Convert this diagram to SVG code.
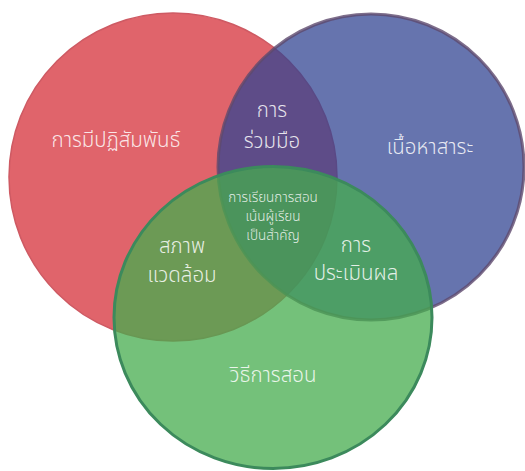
<svg xmlns="http://www.w3.org/2000/svg" width="525" height="471" viewBox="0 0 525 471">
<style>
  .lbl { font-family: "Noto Sans Thai", "Noto Sans", "DejaVu Sans", sans-serif; font-weight: 300; fill: #ffffff; fill-opacity: 0.85; text-anchor: middle; font-size: 20.5px; }
  .sm { font-size: 13.5px; }
  .red { fill: #E0646B; stroke: #CE5A63; stroke-width: 1.5; }
  .blue { fill: rgb(49,68,146); fill-opacity: 0.74; stroke: #5E4A6E; stroke-width: 3; stroke-opacity: 0.8; }
  .green { fill: rgb(69,172,77); fill-opacity: 0.75; stroke: #3C8A5C; stroke-width: 3; }
</style>
<rect width="525" height="471" fill="#ffffff"/>
<g id="interaction">
  <circle class="red" cx="173" cy="177" r="164"/>
</g>
<g id="content">
  <circle class="blue" cx="371" cy="167" r="153"/>
</g>
<g id="teaching-method">
  <ellipse class="green" cx="273" cy="317.5" rx="159" ry="151"/>
</g>
<g id="connectors"/>
<g id="labels">
  <text class="lbl" x="116" y="147">การมีปฏิสัมพันธ์</text>
  <text class="lbl" x="272" y="117">การ</text>
  <text class="lbl" x="272" y="148">ร่วมมือ</text>
  <text class="lbl" x="430" y="154">เนื้อหาสาระ</text>
  <text class="lbl sm" x="273" y="202">การเรียนการสอน</text>
  <text class="lbl sm" x="273" y="221">เน้นผู้เรียน</text>
  <text class="lbl sm" x="273" y="240">เป็นสำคัญ</text>
  <text class="lbl" x="182" y="253">สภาพ</text>
  <text class="lbl" x="182" y="282">แวดล้อม</text>
  <text class="lbl" x="356" y="252">การ</text>
  <text class="lbl" x="356" y="280">ประเมินผล</text>
  <text class="lbl" x="273" y="382">วิธีการสอน</text>
</g>
</svg>
